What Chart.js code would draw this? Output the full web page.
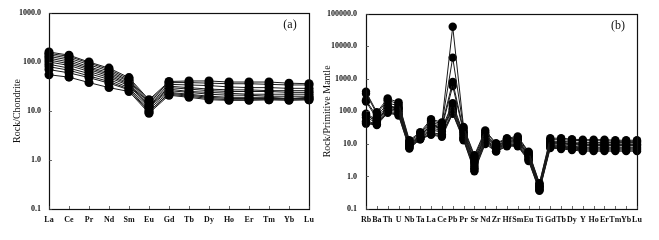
<!DOCTYPE html>
<html>
<head>
<meta charset="utf-8">
<script src="https://cdn.jsdelivr.net/npm/chart.js@4/dist/chart.umd.min.js"></script>
<style>
  html, body { margin: 0; padding: 0; background: #fff; }
  #wrap { position: relative; width: 659px; height: 240px; background: #fff; }
  #ca { position: absolute; left: 0; top: 0; }
  #cb { position: absolute; left: 318px; top: 0; }
</style>
</head>
<body>
<div id="wrap">
  <canvas id="ca" width="330" height="240"></canvas>
  <canvas id="cb" width="341" height="240"></canvas>
</div>
<script>
// ---------- Panel (a): chondrite-normalised REE ----------
const reeCategories = ['La','Ce','Pr','Nd','Sm','Eu','Gd','Tb','Dy','Ho','Er','Tm','Yb','Lu'];
const reeS1  = [160,138,100,75,48,17,40,41,41,39,39,39,37,36];
const reeS2  = [150,130,95,70,45,16,38,38,37,36,36,35,34,34];
const reeS3  = [140,120,88,65,42,15,35,34,33,31,30,30,29,29];
const reeS4  = [130,110,80,60,40,14,32,30,28,27,27,26,26,26];
const reeS5  = [120,100,75,56,37,13,30,28,26,25,25,25,24,24];
const reeS6  = [110,92,70,52,35,12.5,28,25,24,23,22,22,22,22];
const reeS7  = [100,85,64,48,33,12,26,24,22,21,21,20,20,20];
const reeS8  = [90,75,58,44,30,11,24,22,20,19,19,19,18,18];
const reeS9  = [80,68,52,40,28,10,22,20,18,17,17,17,17,17];
const reeS10 = [70,60,48,37,27,9.5,23,21,19,18,18,18,18,19];
const reeS11 = [55,49,38,30,25,9,21,19,17,16.5,16.5,17,16.5,17];
const reeSeries = [reeS1,reeS2,reeS3,reeS4,reeS5,reeS6,reeS7,reeS8,reeS9,reeS10,reeS11];
const yTicksA = [0.1, 1, 10, 100, 1000];

// ---------- Panel (b): primitive-mantle-normalised spider ----------
const spCategories = ['Rb','Ba','Th','U','Nb','Ta','La','Ce','Pb','Pr','Sr','Nd','Zr','Hf','Sm','Eu','Ti','Gd','Tb','Dy','Y','Ho','Er','Tm','Yb','Lu'];
const spS1  = [400,95,250,190,13,23,58,46,40000,33,4.5,26,10.5,15,17,5.8,0.62,15,15,14,13.5,13.5,13.5,13,13,13];
const spS2  = [350,85,220,170,12,21,52,42,4500,30,4,23,10,14,15.5,5.5,0.6,13.5,13.5,13,12.5,12.5,12.5,12,12,12];
const spS3  = [220,70,180,150,11,19,45,38,800,26,3.5,20,9,13,14,5,0.55,12,12,11.5,11,11,11,11,11,11];
const spS4  = [200,60,150,130,10,17,40,33,600,23,3,18,8.5,12,13,4.6,0.5,11,11,10.5,10,10,10,10,10,10];
const spS5  = [85,55,130,120,9.5,16,35,30,180,20,2.6,16,8,11,12,4.3,0.48,10,10,9.5,9,9,9,9,9,9];
const spS6  = [75,50,120,110,9,15.5,30,27,150,18,2.3,14,7.5,10.5,11,4,0.45,9.5,9,8.5,8,8,8,8,8,8];
const spS7  = [65,45,110,100,8.5,15,26,24,120,16,2,13,7,10,10,3.7,0.42,9,8.5,8,7.5,7.5,7.5,7.5,7.5,7.5];
const spS8  = [50,42,100,90,8,14.5,22,20,100,15,1.8,12,6.5,9.5,9.5,3.4,0.4,8.5,8,7.5,7,7,7,7,7,7];
const spS9  = [45,40,95,80,7.5,14,20,18,90,14,1.6,11,6,9,9,3.2,0.38,8,7.5,7,6.5,6.5,6.5,6.5,6.5,6.5];
const spS10 = [42,38,90,75,7.2,14,19,16.5,85,13,1.45,10,5.8,8.5,8.5,3,0.36,7.5,7,6.5,6,6,6,6,6,6];
const spS11 = [80,48,140,125,10,18,38,31,110,22,2.8,17,8.5,12,12.5,4.5,0.5,10.5,10.5,10,9.5,9.5,9.5,9.5,9.5,9.5];
const spSeries = [spS1,spS2,spS3,spS4,spS5,spS6,spS7,spS8,spS9,spS10,spS11];
const yTicksB = [0.1, 1, 10, 100, 1000, 10000, 100000];

const SERIF = "'Liberation Serif', 'Times New Roman', serif";

function framePlugin(label) {
  return {
    id: 'frame_' + label,
    afterDraw(chart) {
      const ctx = chart.ctx;
      const a = chart.chartArea;
      ctx.save();
      ctx.strokeStyle = '#111';
      ctx.lineWidth = 1.2;
      ctx.strokeRect(Math.round(a.left) + 0.5, Math.round(a.top) + 0.5,
                     Math.round(a.right - a.left), Math.round(a.bottom - a.top));
      // inward tick marks
      ctx.lineWidth = 0.8;
      ctx.strokeStyle = '#444';
      const xs = chart.scales.x, ys = chart.scales.y;
      ctx.beginPath();
      for (let i = 0; i < xs.ticks.length; i++) {
        const px = Math.round(xs.getPixelForTick(i)) + 0.5;
        ctx.moveTo(px, a.bottom); ctx.lineTo(px, a.bottom - 3);
      }
      for (let i = 0; i < ys.ticks.length; i++) {
        const py = Math.round(ys.getPixelForTick(i)) + 0.5;
        ctx.moveTo(a.left, py); ctx.lineTo(a.left + 3, py);
      }
      ctx.stroke();
      // panel letter
      ctx.fillStyle = '#111';
      ctx.font = "12px " + SERIF;
      ctx.textAlign = 'center';
      ctx.textBaseline = 'middle';
      ctx.fillText(label, a.right - 19, a.top + 12);
      ctx.restore();
    }
  };
}

function makeChart(canvasId, cats, series, yTicks, yMax, yTitle, opts) {
  const datasets = series.map(s => ({
    data: s,
    borderColor: '#1a1a1a',
    borderWidth: 1,
    backgroundColor: '#000',
    pointBackgroundColor: '#000',
    pointBorderColor: '#000',
    pointRadius: opts.r,
    pointBorderWidth: 0,
    tension: 0,
    clip: false
  }));
  return new Chart(document.getElementById(canvasId), {
    type: 'line',
    data: { labels: cats, datasets },
    options: {
      responsive: false,
      animation: false,
      events: [],
      layout: { padding: { left: 0, right: opts.padRight, top: 13, bottom: 0 } },
      plugins: { legend: { display: false }, tooltip: { enabled: false } },
      scales: {
        x: {
          type: 'category',
          offset: false,
          grid: { display: false, drawTicks: false },
          border: { display: false },
          ticks: {
            color: '#111', padding: 6, maxRotation: 0, autoSkip: false,
            font: { family: SERIF, size: 8, weight: 'bold' }
          },
          afterFit: s => { s.height = 31; }
        },
        y: {
          type: 'logarithmic',
          min: 0.1, max: yMax,
          grid: { display: false, drawTicks: false },
          border: { display: false },
          afterBuildTicks: s => { s.ticks = yTicks.map(v => ({ value: v })); },
          ticks: {
            color: '#111', padding: opts.yPad,
            font: { family: SERIF, size: 8, weight: 'bold' },
            callback: v => Number(v).toFixed(1)
          },
          title: {
            display: true, text: yTitle, color: '#111',
            font: { family: SERIF, size: 10 },
            padding: { top: opts.titlePad, bottom: 0 }
          },
          afterFit: s => { s.width = opts.yWidth; }
        }
      }
    },
    plugins: [framePlugin(opts.label)]
  });
}

makeChart('ca', reeCategories, reeSeries, yTicksA, 1000, 'Rock/Chondrite',
  { r: 4.5, padRight: 21, yWidth: 49, yPad: 8, titlePad: 11, label: '(a)' });
makeChart('cb', spCategories, spSeries, yTicksB, 100000, 'Rock/Primitive Mantle',
  { r: 4.2, padRight: 22, yWidth: 48, yPad: 9, titlePad: 3, label: '(b)' });
</script>
</body>
</html>
